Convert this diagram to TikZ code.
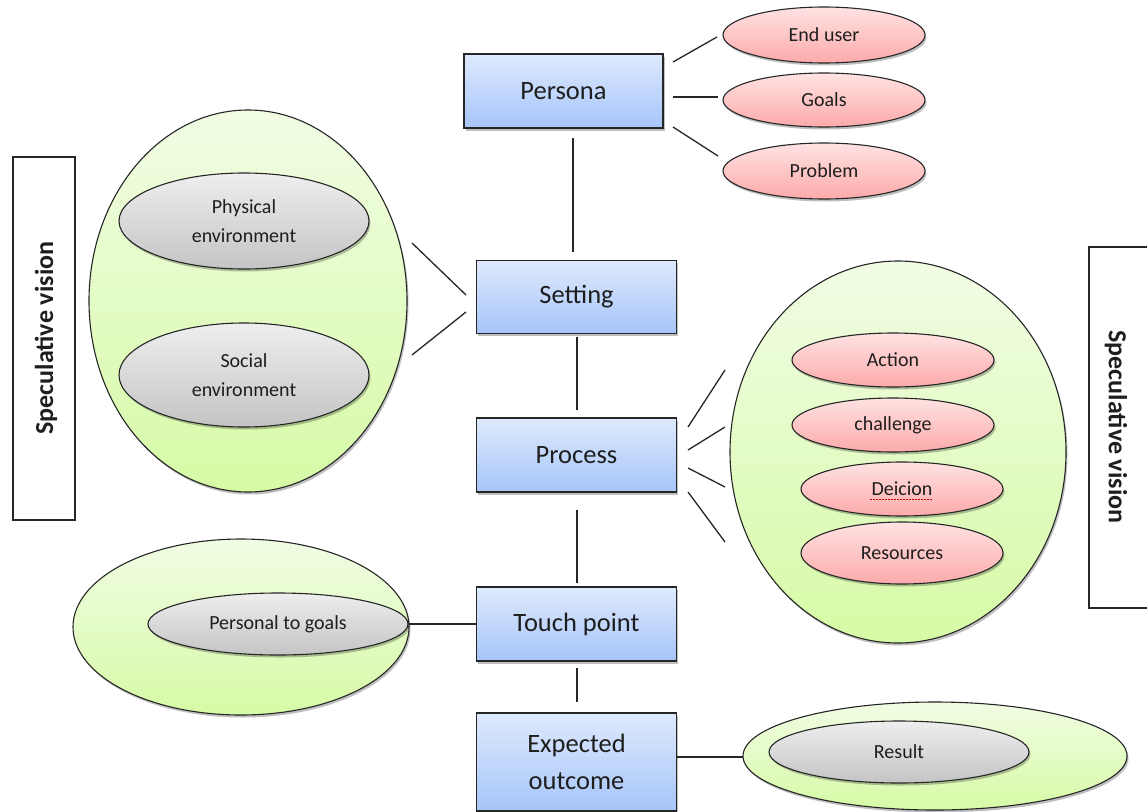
\documentclass[tikz,border=0pt]{standalone}
\usepackage{fontspec}
\setmainfont{Carlito}
\usetikzlibrary{shapes.geometric,shadows}
\definecolor{bluetop}{RGB}{222,233,252}
\definecolor{bluebot}{RGB}{166,197,250}
\definecolor{greentop}{RGB}{241,252,228}
\definecolor{greenbot}{RGB}{214,251,166}
\definecolor{pinktop}{RGB}{255,226,226}
\definecolor{pinkbot}{RGB}{252,170,170}
\definecolor{greytop}{RGB}{238,238,238}
\definecolor{greybot}{RGB}{196,196,196}
\definecolor{txt}{RGB}{30,30,30}
\tikzset{
  shad/.style={drop shadow={shadow xshift=1.5pt,shadow yshift=-2.5pt,opacity=0.25,fill=black}},
  mainbox/.style={draw=black!85,line width=1.3pt,rectangle,inner sep=0pt,top color=bluetop,bottom color=bluebot,shad,text=txt,font=\fontsize{26.5}{37}\selectfont,align=center},
  bigell/.style={draw=black!85,line width=1.1pt,ellipse,inner sep=0pt,top color=greentop,bottom color=greenbot,shad},
  pinkell/.style={draw=black!85,line width=1.1pt,ellipse,inner sep=0pt,top color=pinktop,bottom color=pinkbot,shad,text=txt,font=\fontsize{20}{29}\selectfont,align=center},
  greyell/.style={draw=black!85,line width=1.1pt,ellipse,inner sep=0pt,top color=greytop,bottom color=greybot,shad,text=txt,font=\fontsize{20}{29}\selectfont,align=center},
  labelbox/.style={draw=black!85,line width=1.1pt,fill=white},
  vislabel/.style={text=txt,font=\bfseries\fontsize{26}{30}\selectfont},
  conn/.style={draw=black!85,line width=1.3pt}
}
\begin{document}
\begin{tikzpicture}[x=1pt,y=-1pt]
\clip (0,0) rectangle (1147,811);
\fill[white] (0,0) rectangle (1147,811);

% side label boxes
\draw[labelbox] (13,157) rectangle (75,520);
\node[rotate=90,vislabel] (lvis) at (46,338) {Speculative vision};
\draw[labelbox] (1089,247) rectangle (1170,608);
\node[rotate=-90,vislabel] (rvis) at (1116,427) {Speculative vision};

% main boxes
\node[mainbox,minimum width=199pt,minimum height=74pt] (persona) at (563.5,91) {Persona};
\node[mainbox,minimum width=200pt,minimum height=73pt] (setting) at (576.5,297) {Setting};
\node[mainbox,minimum width=200pt,minimum height=74pt] (process) at (576.5,455) {Process};
\node[mainbox,minimum width=200pt,minimum height=74pt] (touch) at (576.5,624) {Touch point};
\node[mainbox,minimum width=200pt,minimum height=98pt] (expected) at (576.5,762) {Expected\\outcome};

% persona ellipses
\node[pinkell,minimum width=202pt,minimum height=56pt] (enduser) at (824,35) {End user};
\node[pinkell,minimum width=202pt,minimum height=54pt] (goals) at (824,100) {Goals};
\node[pinkell,minimum width=202pt,minimum height=56pt] (problem) at (824,171) {Problem};

% left environment group
\node[bigell,minimum width=318pt,minimum height=382pt] (envgrp) at (248,301) {};
\node[greyell,minimum width=250pt,minimum height=96pt] (physical) at (244,221) {Physical\\environment};
\node[greyell,minimum width=250pt,minimum height=104pt] (social) at (244,375) {Social\\environment};

% right process group
\node[bigell,minimum width=336pt,minimum height=382pt] (procgrp) at (898,452) {};
\node[pinkell,minimum width=202pt,minimum height=54pt] (action) at (893,360) {Action};
\node[pinkell,minimum width=202pt,minimum height=54pt] (challenge) at (893,425) {challenge};
\node[pinkell,minimum width=202pt,minimum height=54pt] (deicion) at (902,489) {Deicion};
\node[pinkell,minimum width=202pt,minimum height=62pt] (resources) at (902,553) {Resources};
\draw[red!80!black,line width=0.8pt,dash pattern=on 1.5pt off 1.5pt] (870,499) -- (933,499);

% touch point group
\node[bigell,minimum width=336pt,minimum height=176pt] (touchgrp) at (241,627) {};
\node[greyell,minimum width=260pt,minimum height=62pt] (ptg) at (278,624) {Personal to goals};

% result group
\node[bigell,minimum width=384pt,minimum height=108pt] (resgrp) at (935,756) {};
\node[greyell,minimum width=260pt,minimum height=62pt] (result) at (899,752) {Result};

% connector end points
\coordinate (p1a) at (673,62);  \coordinate (p1b) at (717,37);
\coordinate (p2a) at (673,97);  \coordinate (p2b) at (718,97);
\coordinate (p3a) at (673,127); \coordinate (p3b) at (718,156);
\coordinate (s1a) at (412,243); \coordinate (s1b) at (466,295);
\coordinate (s2a) at (412,355); \coordinate (s2b) at (466,312);
\coordinate (r1a) at (688,427); \coordinate (r1b) at (725,370);
\coordinate (r2a) at (688,450); \coordinate (r2b) at (725,427);
\coordinate (r3a) at (688,468); \coordinate (r3b) at (725,487);
\coordinate (r4a) at (688,492); \coordinate (r4b) at (725,542);
\coordinate (v1a) at (573,138); \coordinate (v1b) at (573,252);
\coordinate (v2a) at (577,337); \coordinate (v2b) at (577,410);
\coordinate (v3a) at (577,510); \coordinate (v3b) at (577,583);
\coordinate (v4a) at (577,668); \coordinate (v4b) at (577,702);
\coordinate (e1a) at (677,757); \coordinate (e1b) at (743,757);

% connectors
\draw[conn] (p1a) -- (p1b);
\draw[conn] (p2a) -- (p2b);
\draw[conn] (p3a) -- (p3b);
\draw[conn] (s1a) -- (s1b);
\draw[conn] (s2a) -- (s2b);
\draw[conn] (r1a) -- (r1b);
\draw[conn] (r2a) -- (r2b);
\draw[conn] (r3a) -- (r3b);
\draw[conn] (r4a) -- (r4b);
\draw[conn] (v1a) -- (v1b);
\draw[conn] (v2a) -- (v2b);
\draw[conn] (v3a) -- (v3b);
\draw[conn] (v4a) -- (v4b);
\draw[conn] (ptg.east) -- (touch.west);
\draw[conn] (e1a) -- (e1b);
\end{tikzpicture}
\end{document}
